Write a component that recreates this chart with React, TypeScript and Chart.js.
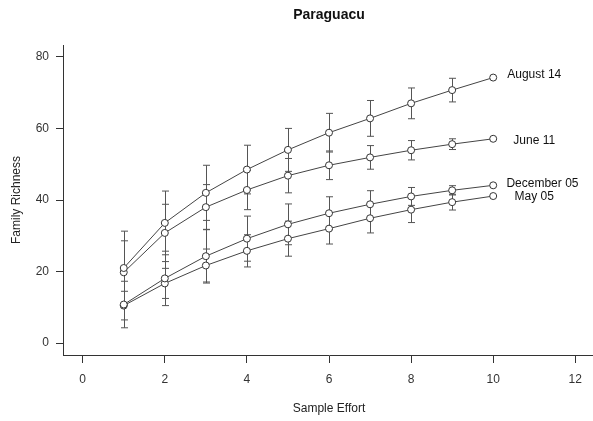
import React, { useEffect, useRef } from 'react';
import { Chart, registerables } from 'chart.js';

Chart.register(...registerables);

const chartTitle = 'Paraguacu';
const xTitle = 'Sample Effort';
const yTitle = 'Family Richness';

const effort = [1, 2, 3, 4, 5, 6, 7, 8, 9, 10];
const seriesNames = ['August 14', 'June 11', 'December 05', 'May 05'];

const aug14 = [21.0, 33.6, 42.0, 48.5, 54.0, 58.8, 62.8, 67.0, 70.7, 74.2];
const aug14Err = [10.3, 8.9, 7.7, 6.8, 6.0, 5.4, 5.0, 4.3, 3.3, 0];
const jun11 = [19.8, 30.8, 38.0, 42.8, 46.8, 49.7, 51.9, 53.9, 55.6, 57.1];
const jun11Err = [8.8, 8.0, 6.3, 5.5, 4.8, 4.0, 3.3, 2.7, 1.5, 0];
const dec05 = [10.8, 18.1, 24.3, 29.2, 33.2, 36.3, 38.8, 41.0, 42.7, 44.1];
const dec05Err = [6.5, 7.6, 7.5, 6.3, 5.7, 4.6, 3.8, 2.5, 1.3, 0];
const may05 = [10.5, 16.7, 21.7, 25.8, 29.2, 32.0, 34.9, 37.3, 39.4, 41.1];
const may05Err = [4.0, 4.2, 4.6, 4.5, 4.9, 4.3, 4.1, 3.6, 2.2, 0];

const xTicks = [0, 2, 4, 6, 8, 10, 12];
const yTicks = [0, 20, 40, 60, 80];

// text annotation anchors (data coordinates)
const labelX = [11.0, 11.0, 11.2, 11.0];
const labelY = [75.1, 56.7, 44.6, 40.9];

const seriesValues = [aug14, jun11, dec05, may05];
const seriesErrors = [aug14Err, jun11Err, dec05Err, may05Err];

const FONT = '"Liberation Sans", Arial, sans-serif';

export default function App() {
  const ref = useRef<HTMLCanvasElement | null>(null);

  useEffect(() => {
    if (!ref.current) return;

    const errorBars = {
      id: 'errorBars',
      beforeDatasetsDraw(chart: any) {
        const { ctx, scales } = chart;
        const xs = scales.x;
        const ys = scales.y;
        ctx.save();
        ctx.strokeStyle = '#555';
        ctx.lineWidth = 1;
        seriesErrors.forEach((errs, si) => {
          const vals = seriesValues[si];
          errs.forEach((e, i) => {
            if (!e) return;
            const px = Math.round(xs.getPixelForValue(effort[i])) + 0.5;
            const top = ys.getPixelForValue(vals[i] + e);
            const bot = ys.getPixelForValue(vals[i] - e);
            ctx.beginPath();
            ctx.moveTo(px, top);
            ctx.lineTo(px, bot);
            ctx.moveTo(px - 3.5, top);
            ctx.lineTo(px + 3.5, top);
            ctx.moveTo(px - 3.5, bot);
            ctx.lineTo(px + 3.5, bot);
            ctx.stroke();
          });
        });
        ctx.restore();
      },
    };

    const annotations = {
      id: 'annotations',
      afterDraw(chart: any) {
        const { ctx, scales, chartArea } = chart;
        ctx.save();
        ctx.fillStyle = '#111';
        ctx.textAlign = 'center';
        ctx.textBaseline = 'middle';
        ctx.font = `bold 14px ${FONT}`;
        ctx.fillText(chartTitle, (chartArea.left + chartArea.right) / 2, 15);
        ctx.font = `12px ${FONT}`;
        seriesNames.forEach((n, i) => {
          ctx.fillText(n, scales.x.getPixelForValue(labelX[i]), scales.y.getPixelForValue(labelY[i]));
        });
        ctx.restore();
      },
    };

    const chart = new Chart(ref.current, {
      type: 'line',
      data: {
        datasets: seriesNames.map((name, si) => ({
          label: name,
          data: effort.map((x, i) => ({ x, y: seriesValues[si][i] })),
          borderColor: '#444',
          borderWidth: 1,
          pointRadius: 3.5,
          pointBorderWidth: 1,
          pointBorderColor: '#333',
          pointBackgroundColor: '#fff',
          tension: 0,
          fill: false,
        })),
      },
      options: {
        animation: false,
        responsive: false,
        maintainAspectRatio: false,
        layout: { padding: { top: 45, right: 4.5, left: 0, bottom: 0 } },
        plugins: {
          legend: { display: false },
          tooltip: { enabled: false },
          title: { display: false },
        },
        scales: {
          x: {
            type: 'linear',
            min: -0.48,
            max: 12.48,
            afterBuildTicks: (s: any) => {
              s.ticks = xTicks.map((v) => ({ value: v }));
            },
            afterFit: (s: any) => {
              s.height = 66;
            },
            grid: {
              display: true,
              drawOnChartArea: false,
              drawTicks: true,
              tickLength: 8,
              color: '#333',
            },
            border: { display: true, color: '#333', width: 1 },
            ticks: {
              color: '#333',
              font: { family: FONT, size: 12 },
              padding: 9,
              maxRotation: 0,
              autoSkip: false,
            },
            title: {
              display: true,
              text: xTitle,
              color: '#222',
              font: { family: FONT, size: 12 },
              padding: { top: 0, bottom: 5 },
            },
          },
          y: {
            type: 'linear',
            min: -3.3,
            max: 83.3,
            afterBuildTicks: (s: any) => {
              s.ticks = yTicks.map((v) => ({ value: v }));
            },
            afterFit: (s: any) => {
              s.width = 63;
            },
            grid: {
              display: true,
              drawOnChartArea: false,
              drawTicks: true,
              tickLength: 7,
              color: '#333',
            },
            border: { display: true, color: '#333', width: 1 },
            ticks: {
              color: '#333',
              font: { family: FONT, size: 12 },
              padding: 7,
              autoSkip: false,
            },
            title: {
              display: true,
              text: yTitle,
              color: '#222',
              font: { family: FONT, size: 12 },
              padding: { top: 9, bottom: 0 },
            },
          },
        },
      },
      plugins: [errorBars, annotations],
    } as any);

    return () => chart.destroy();
  }, []);

  return (
    <div
      style={{
        position: 'fixed',
        left: 0,
        top: 0,
        width: 593,
        height: 421,
        overflow: 'hidden',
        background: '#fff',
      }}
    >
      <canvas ref={ref} width={600} height={421} style={{ width: 600, height: 421, display: 'block' }} />
    </div>
  );
}
